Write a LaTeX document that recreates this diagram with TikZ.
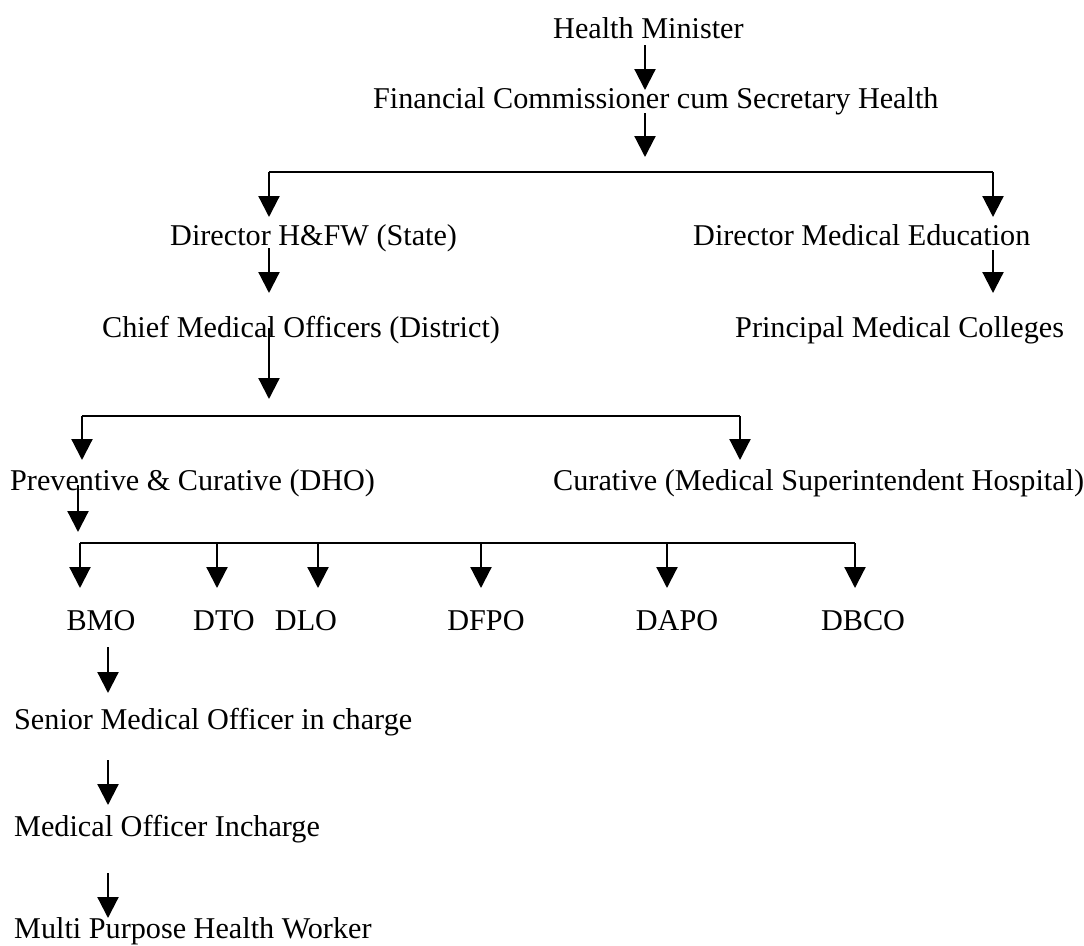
\documentclass[tikz,border=0pt]{standalone}
\usepackage{fontspec}
\setmainfont{Liberation Serif}
\usetikzlibrary{arrows.meta,calc}
\begin{document}
\begin{tikzpicture}[x=1pt,y=-1pt,
  lbl/.style={anchor=base west,inner sep=0pt,font=\fontsize{30.2}{35}\selectfont},
  clbl/.style={lbl,anchor=base},
  link/.style={line width=2.2pt},
  arr/.style={link,-{Triangle[width=21pt,length=21pt]}}]
\useasboundingbox (0,0) rectangle (1084,945);

% --- titles of the hierarchy ---
\node[lbl] (hm)   at (553,38)  {Health Minister};
\node[lbl] (fc)   at (373,108) {Financial Commissioner cum Secretary Health};
\node[lbl] (dh)   at (170,245) {Director H\&FW (State)};
\node[lbl] (dme)  at (693,245) {Director Medical Education};
\node[lbl] (cmo)  at (102,337) {Chief Medical Officers (District)};
\node[lbl] (pmc)  at (735,337) {Principal Medical Colleges};
\node[lbl] (pc)   at (10,490)  {Preventive \& Curative (DHO)};
\node[lbl] (cu)   at (553,490) {Curative (Medical Superintendent Hospital)};
\node[clbl] (bmo)  at (101,630) {BMO};
\node[clbl] (dto)  at (224,630) {DTO};
\node[clbl] (dlo)  at (306,630) {DLO};
\node[clbl] (dfpo) at (486,630) {DFPO};
\node[clbl] (dapo) at (677,630) {DAPO};
\node[clbl] (dbco) at (863,630) {DBCO};
\node[lbl] (smo)  at (14,729)  {Senior Medical Officer in charge};
\node[lbl] (moi)  at (14,836)  {Medical Officer Incharge};
\node[lbl] (mphw) at (14,938)  {Multi Purpose Health Worker};

% --- junction points ---
\coordinate (fcEnd)  at (645,157);
\coordinate (b1L)    at (269,172);
\coordinate (b1R)    at (993,172);
\coordinate (cmoEnd) at (269,399);
\coordinate (b2L)    at (82,416);
\coordinate (b2R)    at (740,416);
\coordinate (pcEnd)  at (78,532);
\coordinate (b3L)    at (80,543);
\coordinate (b3R)    at (855,543);
\coordinate (colB)   at (108,0);

% --- top levels ---
\draw[arr] ($(hm.base -| fcEnd)+(0,7)$) -- ($(fc.base -| fcEnd)+(0,-18)$);
\draw[arr] ($(fc.base -| fcEnd)+(0,5)$) -- (fcEnd);
\draw[link] (b1L) -- (b1R);
\draw[arr] (b1L) -- ($(dh.base -| b1L)+(0,-28)$);
\draw[arr] (b1R) -- ($(dme.base -| b1R)+(0,-28)$);
\draw[arr] ($(dh.base -| b1L)+(0,3)$) -- ($(cmo.base -| b1L)+(0,-44)$);
\draw[arr] ($(dme.base -| b1R)+(0,5)$) -- ($(pmc.base -| b1R)+(0,-44)$);

% --- district level ---
\draw[arr] ($(cmo.base -| cmoEnd)+(0,-9)$) -- (cmoEnd);
\draw[link] (b2L) -- (b2R);
\draw[arr] (b2L) -- ($(pc.base -| b2L)+(0,-30)$);
\draw[arr] (b2R) -- ($(cu.base -| b2R)+(0,-30)$);
\draw[arr] ($(pc.base -| pcEnd)+(0,-5)$) -- (pcEnd);

% --- programme officers ---
\draw[link] (b3L) -- (b3R);
\foreach \n/\x in {bmo/80,dto/217,dlo/318,dfpo/481,dapo/667,dbco/855}{
  \coordinate (d-\n) at (\x,543);
  \draw[arr] (d-\n) -- ($(\n.base -| d-\n)+(0,-42)$);
}

% --- block level chain ---
\draw[arr] ($(bmo.base -| colB)+(0,17)$) -- ($(smo.base -| colB)+(0,-36)$);
\draw[arr] ($(smo.base -| colB)+(0,31)$) -- ($(moi.base -| colB)+(0,-31)$);
\draw[arr] ($(moi.base -| colB)+(0,37)$) -- ($(mphw.base -| colB)+(0,-20)$);
\end{tikzpicture}
\end{document}
